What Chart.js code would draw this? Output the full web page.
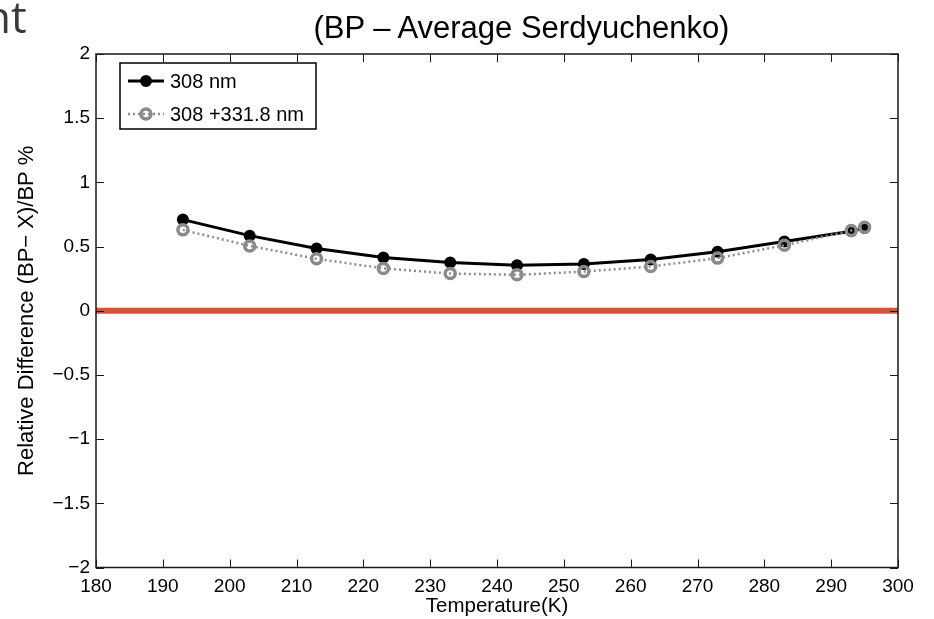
<!DOCTYPE html>
<html>
<head>
<meta charset="utf-8">
<script src="https://cdn.jsdelivr.net/npm/chart.js@4/dist/chart.umd.min.js"></script>
<style>
  body { margin: 0; background: #fff; }
  #wrap { position: relative; width: 934px; height: 619px; overflow: hidden; }
  #slide-text { position: absolute; left: -16px; top: -14px; font-family: "Open Sans", sans-serif; font-size: 44px; color: #3a3a3a; }
  #plot-title { position: absolute; left: 0; width: 1043px; top: 10px; text-align: center; font-family: "Liberation Sans", Arial, sans-serif; font-size: 31px; color: #000; }
</style>
</head>
<body>
<div id="wrap">
  <canvas id="canvas-serdyuchenko" width="934" height="619"></canvas>
  <div id="slide-text">nt</div>
  <div id="plot-title">(BP &#8211; Average Serdyuchenko)</div>
</div>
<script>
const temperaturas = [193, 203, 213, 223, 233, 243, 253, 263, 273, 283, 293, 295];
const dif_308 = [0.71, 0.585, 0.485, 0.415, 0.375, 0.355, 0.365, 0.4, 0.46, 0.54, 0.62, 0.645];
const dif_308_331 = [0.63, 0.505, 0.405, 0.33, 0.29, 0.28, 0.305, 0.345, 0.41, 0.51, 0.625, 0.65];
const rango_x = [180, 300];
const linea_cero = [0, 0];

const fuente = "'Liberation Sans', Arial, sans-serif";

// matlab style box with inward ticks
const cajaPlugin = {
  id: "caja",
  afterDatasetsDraw(chart) {
    const ctx = chart.ctx;
    const a = chart.chartArea;
    const sx = chart.scales.x;
    const sy = chart.scales.y;
    ctx.save();
    ctx.strokeStyle = "#1a1a1a";
    ctx.lineWidth = 1.5;
    ctx.strokeRect(a.left, a.top, a.right - a.left, a.bottom - a.top);
    ctx.lineWidth = 1;
    ctx.beginPath();
    sx.ticks.forEach((t) => {
      const px = Math.round(sx.getPixelForValue(t.value)) + 0.5;
      ctx.moveTo(px, a.bottom); ctx.lineTo(px, a.bottom - 8);
      ctx.moveTo(px, a.top); ctx.lineTo(px, a.top + 8);
    });
    sy.ticks.forEach((t) => {
      const py = Math.round(sy.getPixelForValue(t.value)) + 0.5;
      ctx.moveTo(a.left, py); ctx.lineTo(a.left + 8, py);
      ctx.moveTo(a.right, py); ctx.lineTo(a.right - 8, py);
    });
    ctx.stroke();
    ctx.restore();
  },
  afterDraw(chart) {
    // legend box, top left inside the axes
    const ctx = chart.ctx;
    const a = chart.chartArea;
    const x0 = a.left + 24, y0 = a.top + 9, w = 196, h = 66;
    ctx.save();
    ctx.fillStyle = "#fff";
    ctx.fillRect(x0, y0, w, h);
    ctx.strokeStyle = "#000";
    ctx.lineWidth = 1.5;
    ctx.strokeRect(x0, y0, w, h);
    const items = [chart.data.datasets[0], chart.data.datasets[1]];
    items.forEach((ds, i) => {
      const yy = y0 + 18 + i * 33;
      ctx.beginPath();
      ctx.setLineDash(ds.borderDash || []);
      ctx.strokeStyle = ds.borderColor;
      ctx.lineWidth = ds.borderWidth;
      ctx.moveTo(x0 + 8, yy);
      ctx.lineTo(x0 + 44, yy);
      ctx.stroke();
      ctx.setLineDash([]);
      ctx.beginPath();
      ctx.arc(x0 + 26, yy, ds.pointRadius, 0, Math.PI * 2);
      ctx.fillStyle = ds.pointBackgroundColor;
      ctx.fill();
      ctx.lineWidth = ds.pointBorderWidth;
      ctx.strokeStyle = ds.pointBorderColor;
      ctx.stroke();
      ctx.fillStyle = "#000";
      ctx.font = "20px " + fuente;
      ctx.textBaseline = "middle";
      ctx.fillText(ds.label, x0 + 50, yy + 1);
    });
    ctx.restore();
  },
};

function aPuntos(xs, ys) {
  return xs.map((x, i) => ({ x: x, y: ys[i] }));
}

const data = {
  datasets: [
    {
      label: "308 nm",
      data: aPuntos(temperaturas, dif_308),
      borderColor: "#000",
      borderWidth: 3,
      pointRadius: 5,
      pointBorderWidth: 2,
      pointBorderColor: "#000",
      pointBackgroundColor: "#000",
      order: 2,
    },
    {
      label: "308 +331.8 nm",
      data: aPuntos(temperaturas, dif_308_331),
      borderColor: "#8c8c8c",
      borderWidth: 2.5,
      borderDash: [2, 3],
      pointRadius: 5,
      pointBorderWidth: 3.5,
      pointBorderColor: "#8a8a8a",
      pointBackgroundColor: "rgba(255,255,255,0)",
      order: 1,
    },
    {
      label: "cero",
      data: aPuntos(rango_x, linea_cero),
      borderColor: "#d5533a",
      borderWidth: 6,
      pointRadius: 0,
      order: 3,
    },
  ],
};

const config = {
  type: "line",
  data: data,
  options: {
    responsive: false,
    animation: false,
    layout: { padding: { left: 0, right: 36, top: 54, bottom: 0 } },
    plugins: { legend: { display: false }, tooltip: { enabled: false } },
    scales: {
      x: {
        type: "linear",
        min: 180,
        max: 300,
        afterFit: (s) => { s.height = 51.5; },
        grid: { display: false, drawTicks: false },
        border: { display: false },
        ticks: { stepSize: 10, autoSkip: false, maxRotation: 0, padding: 8, color: "#000", font: { family: fuente, size: 19 } },
        title: { display: true, text: "Temperature(K)", color: "#000", padding: { top: 0, bottom: 0 }, font: { family: fuente, size: 20.5 } },
      },
      y: {
        min: -2,
        max: 2,
        afterFit: (s) => { s.width = 96; },
        grid: { display: false, drawTicks: false },
        border: { display: false },
        ticks: {
          stepSize: 0.5,
          padding: 6,
          color: "#000",
          font: { family: fuente, size: 19 },
          callback: (v) => String(v).replace("-", "\u2212"),
        },
        title: { display: true, text: "Relative Difference (BP\u2212 X)/BP %", color: "#000", padding: { top: 14, bottom: 0 }, font: { family: fuente, size: 22 } },
      },
    },
  },
  plugins: [cajaPlugin],
};

new Chart(document.getElementById("canvas-serdyuchenko"), config);
</script>
</body>
</html>
